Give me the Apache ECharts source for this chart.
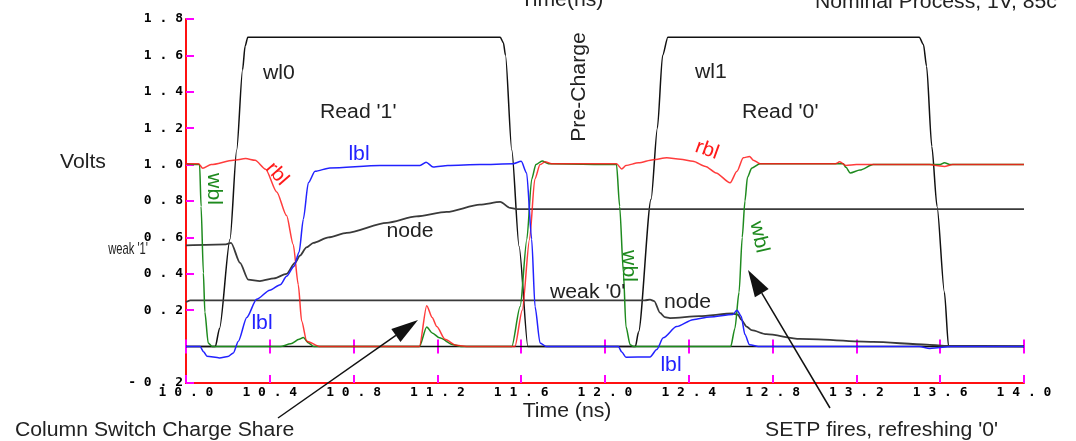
<!DOCTYPE html>
<html>
<head>
<meta charset="utf-8">
<style>
    html, body { margin: 0; padding: 0; background: #fff; }
    #chart { width: 1076px; height: 441px; }
</style>
</head>
<body>
<div id="chart"></div>
<script src="https://cdn.jsdelivr.net/npm/echarts@6.0.0/dist/echarts.min.js"></script>
<script>
    // axis ticks
    var yTicks = [-0.2, 0.2, 0.4, 0.6, 0.8, 1.0, 1.2, 1.4, 1.6, 1.8];

    // word lines (black)
    var wl0 = [[10.0, 0], [10.14, 0], [10.16, 0.1], [10.21, 0.59], [10.242, 1.08], [10.27, 1.52], [10.282, 1.65], [10.295, 1.70],
        [11.50, 1.70], [11.515, 1.67], [11.525, 1.60], [11.555, 1.08], [11.59, 0.55], [11.632, 0], [14.0, 0]];
    var wl1 = [[10.0, 0], [12.145, 0], [12.16, 0.08], [12.22, 0.81], [12.25, 1.2], [12.275, 1.6], [12.30, 1.70],
        [13.50, 1.70], [13.52, 1.66], [13.535, 1.54], [13.56, 1.10], [13.585, 0.77], [13.62, 0.30], [13.64, 0], [14.0, 0]];

    // storage nodes: cell 0 holds weak '1', cell 1 holds weak '0'
    var node1 = [[10.0, 0.556], [10.19, 0.562], [10.215, 0.57], [10.258, 0.46], [10.297, 0.368], [10.353, 0.36], [10.42, 0.375],
        [10.48, 0.40], [10.52, 0.46], [10.544, 0.50], [10.575, 0.545], [10.608, 0.57], [10.68, 0.60], [10.767, 0.625],
        [10.958, 0.68], [11.10, 0.715], [11.244, 0.74], [11.403, 0.78], [11.50, 0.795], [11.547, 0.762], [11.586, 0.755], [14.0, 0.755]];
    var node0 = [[10.0, 0.245], [10.02, 0.254], [12.19, 0.254], [12.215, 0.258], [12.235, 0.25], [12.263, 0.185], [12.285, 0.162],
        [12.31, 0.157], [12.45, 0.167], [12.61, 0.182], [12.635, 0.175], [12.65, 0.148], [12.676, 0.11], [12.70, 0.09],
        [12.77, 0.068], [12.93, 0.042], [13.28, 0.026], [13.535, 0.011], [13.62, 0.004], [14.0, 0.002]];

    // bit lines
    var rbl = [[10.0, 1.005], [10.06, 1.005], [10.08, 0.98], [10.12, 1.0], [10.226, 1.024], [10.285, 1.033], [10.33, 1.024],
        [10.38, 0.975], [10.433, 0.85], [10.48, 0.72], [10.512, 0.56], [10.536, 0.34], [10.552, 0.14], [10.576, 0.03], [10.64, 0],
        [11.114, 0], [11.149, 0.225], [11.175, 0.16], [11.197, 0.11], [11.236, 0.04], [11.29, 0.007], [11.35, 0],
        [11.57, 0], [11.605, 0.2], [11.64, 0.59], [11.665, 0.92], [11.69, 1.0], [11.714, 1.015], [11.745, 1.005],
        [12.055, 1.005], [12.08, 0.976], [12.10, 0.995], [12.16, 1.01], [12.23, 1.027], [12.295, 1.037], [12.36, 1.03],
        [12.42, 1.018], [12.48, 0.99], [12.53, 0.954], [12.597, 0.90], [12.63, 0.963], [12.66, 1.037], [12.69, 1.045],
        [12.708, 1.024], [12.74, 1.005], [13.10, 1.005], [13.12, 1.015], [13.15, 0.995], [13.20, 1.0], [13.55, 1.0],
        [13.58, 0.995], [13.62, 0.99], [13.66, 1.0], [14.0, 1.0]];
    var wbl = [[10.0, 1.005], [10.065, 1.0], [10.072, 0.77], [10.083, 0.405], [10.09, 0.19], [10.106, 0.02], [10.125, 0],
        [10.45, 0], [10.50, 0.015], [10.54, 0.04], [10.56, 0.05], [10.585, 0.02], [10.61, 0],
        [11.114, 0], [11.149, 0.108], [11.175, 0.075], [11.21, 0.048], [11.276, 0.01], [11.32, 0],
        [11.555, 0], [11.595, 0.22], [11.627, 0.59], [11.65, 0.92], [11.67, 1.0], [11.70, 1.02], [11.73, 1.005],
        [12.055, 1.0], [12.07, 0.77], [12.088, 0.405], [12.10, 0.11], [12.12, 0.01], [12.135, 0],
        [12.60, 0], [12.62, 0.1], [12.64, 0.3], [12.655, 0.6], [12.668, 0.8], [12.68, 0.93], [12.70, 0.98], [12.74, 1.005],
        [13.137, 1.005], [13.15, 0.985], [13.17, 0.954], [13.217, 0.97], [13.28, 1.0], [13.60, 1.0], [13.62, 1.01], [13.65, 1.0], [14.0, 1.0]];
    var lbl = [[10.0, 0], [10.067, 0], [10.085, -0.03], [10.10, -0.053], [10.16, -0.062], [10.20, -0.055], [10.226, -0.035],
        [10.25, 0.03], [10.29, 0.16], [10.337, 0.26], [10.40, 0.31], [10.45, 0.34], [10.48, 0.386], [10.515, 0.44],
        [10.54, 0.52], [10.56, 0.70], [10.584, 0.90], [10.616, 0.963], [10.687, 0.982], [10.926, 0.995], [11.117, 0.995],
        [11.146, 1.013], [11.18, 0.987], [11.25, 0.995], [11.403, 1.0], [11.562, 1.005], [11.60, 1.018], [11.626, 0.954],
        [11.65, 0.59], [11.666, 0.22], [11.69, 0.02], [11.72, 0], [12.064, 0], [12.08, -0.03], [12.10, -0.058],
        [12.215, -0.057], [12.247, -0.016], [12.278, 0.048], [12.342, 0.11], [12.42, 0.148], [12.50, 0.163],
        [12.61, 0.176], [12.63, 0.20], [12.65, 0.167], [12.668, 0.066], [12.69, 0.01], [12.74, 0],
        [13.50, 0], [13.55, -0.01], [13.60, -0.005], [13.65, 0], [14.0, 0]];

    var chart = echarts.init(document.getElementById('chart'));

    function spaced(v) {
        var s = Math.abs(v) < 1e-9 ? '0.0' : v.toFixed(1);
        return s.split('').join(' ');
    }

    var font = '20px "Liberation Sans", Arial, sans-serif';
    function txt(s, x, y, o) {
        o = o || {};
        return {
            type: 'text', x: x, y: y, z: 100,
            rotation: o.rot || 0,
            scaleX: o.sx || 1.06,
            style: {
                text: s, fill: o.color || '#222', font: o.font || font,
                align: o.align || 'left', verticalAlign: 'middle'
            }
        };
    }
    function arrow(tail, tip) {
        var dx = tip[0] - tail[0], dy = tip[1] - tail[1];
        var len = Math.sqrt(dx * dx + dy * dy), ux = dx / len, uy = dy / len;
        var hl = 27, hw = 8;
        var bx = tip[0] - ux * hl, by = tip[1] - uy * hl;
        return [
            { type: 'polyline', z: 100, shape: { points: [tail, [bx, by]] }, style: { stroke: '#111', lineWidth: 1.5 } },
            { type: 'polygon', z: 100, shape: { points: [tip, [bx - uy * hw, by + ux * hw], [bx + uy * hw, by - ux * hw]] }, style: { fill: '#111' } }
        ];
    }

    function line(name, data, color, width, z, opacity) {
        return {
            name: name, type: 'line', data: data, showSymbol: false, smooth: 0.25, smoothMonotone: 'x',
            z: z, silent: true, animation: false,
            lineStyle: { color: color, width: width, opacity: opacity == null ? 1 : opacity }
        };
    }

    var tickAxis = {
        type: 'value', min: 10, max: 14, interval: 0.4,
        axisLabel: { show: false }, splitLine: { show: false }
    };
    var tickFont = { color: '#000', fontFamily: '"DejaVu Sans Mono", monospace', fontWeight: 'bold', fontSize: 13 };

    var option = {
        animation: false,
        grid: { left: 186, right: 52, top: 19, bottom: 58, containLabel: false },
        xAxis: [
            {
                type: 'value', min: 10, max: 14, interval: 0.4, position: 'bottom',
                axisLine: { onZero: false, lineStyle: { color: '#ff1010', width: 2 } },
                axisTick: { inside: true, length: 8, lineStyle: { color: '#ff00ff', width: 2 } },
                axisLabel: Object.assign({ margin: 3, formatter: spaced }, tickFont),
                splitLine: { show: false }
            },
            // short ticks across the 0 V line
            Object.assign({}, tickAxis, {
                axisLine: { show: false, onZero: true, onZeroAxisIndex: 0 },
                axisTick: { inside: true, length: 7, lineStyle: { color: '#ff00ff', width: 2 } }
            }),
            Object.assign({}, tickAxis, {
                axisLine: { show: false, onZero: true, onZeroAxisIndex: 0 },
                axisTick: { inside: false, length: 7, lineStyle: { color: '#ff00ff', width: 2 } }
            })
        ],
        yAxis: {
            type: 'value', min: -0.2, max: 1.8, interval: 0.2,
            axisLine: { show: true, lineStyle: { color: '#ff1010', width: 2 } },
            axisTick: { show: true, inside: true, length: 8, customValues: yTicks, lineStyle: { color: '#ff00ff', width: 2 } },
            axisLabel: Object.assign({ margin: 3, customValues: yTicks, formatter: spaced }, tickFont),
            splitLine: { show: false }
        },
        series: [
            line('wl0', wl0, '#111', 1.5, 2),
            line('wl1', wl1, '#111', 1.5, 2),
            line('node1', node1, '#3a3a3a', 1.8, 3),
            line('node0', node0, '#3a3a3a', 1.8, 3),
            line('wbl', wbl, '#1e8a1e', 1.5, 4),
            line('rbl', rbl, '#ff1a1a', 1.5, 5, 0.85),
            line('lbl', lbl, '#2222ff', 1.5, 6)
        ],
        graphic: [
            txt('Time(ns)', 562, 0, { align: 'center' }),
            txt('Nominal Process, 1V, 85c', 815, 2),
            txt('wl0', 263, 73),
            txt("Read '1'", 320, 112),
            txt('Pre-Charge', 579, 87, { align: 'center', rot: Math.PI / 2 }),
            txt('wl1', 695, 72),
            txt("Read '0'", 742, 112),
            txt('Volts', 60, 162),
            txt("weak '1'", 148, 249, { align: 'right', sx: 0.66, font: '17px "Liberation Sans", Arial, sans-serif' }),
            txt('rbl', 277, 174, { align: 'center', rot: -0.85, color: '#ff1a1a' }),
            txt('lbl', 359, 154, { align: 'center', color: '#2222ff' }),
            txt('wbl', 214, 189, { align: 'center', rot: -Math.PI / 2, color: '#1e8a1e' }),
            txt('node', 410, 231, { align: 'center' }),
            txt('lbl', 262, 323, { align: 'center', color: '#2222ff' }),
            txt("weak '0'", 550, 292),
            txt('node', 664, 302),
            txt('wbl', 629, 266, { align: 'center', rot: -Math.PI / 2, color: '#1e8a1e' }),
            txt('wbl', 759, 237, { align: 'center', rot: -1.35, color: '#1e8a1e' }),
            txt('rbl', 707, 150, { align: 'center', rot: -0.35, color: '#ff1a1a' }),
            txt('lbl', 671, 365, { align: 'center', color: '#2222ff' }),
            txt('Time (ns)', 567, 411, { align: 'center' }),
            txt('Column Switch Charge Share', 15, 430),
            txt("SETP fires, refreshing '0'", 765, 430)
        ].concat(arrow([278, 418], [418, 320]), arrow([830, 408], [748, 270]))
    };

    chart.setOption(option);
</script>
</body>
</html>
